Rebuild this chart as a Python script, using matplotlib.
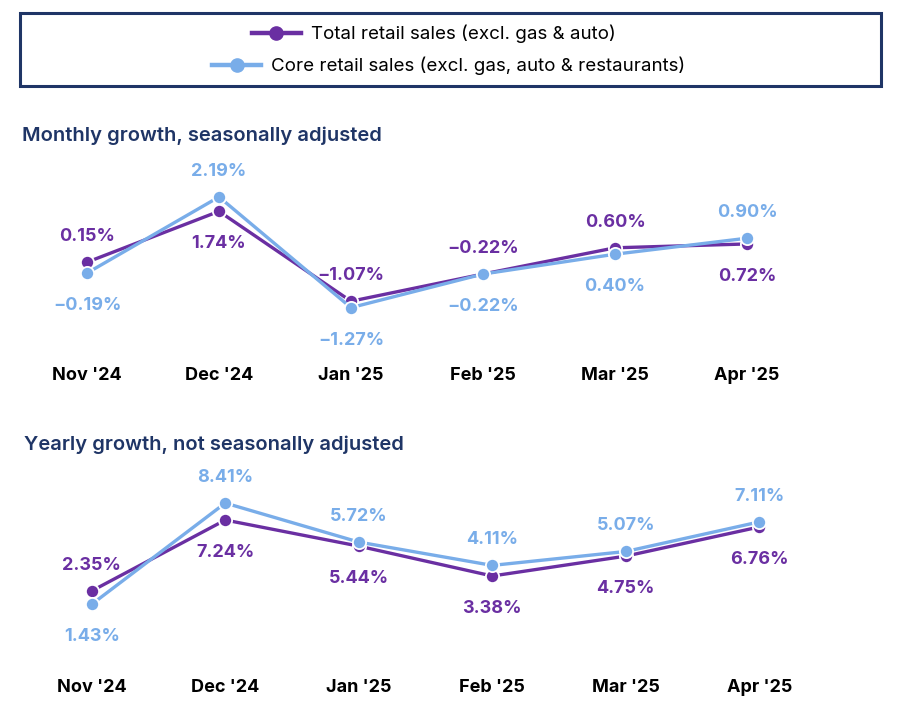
import matplotlib
matplotlib.use("Agg")
import matplotlib.pyplot as plt
from matplotlib.patches import Rectangle
from matplotlib.lines import Line2D

months = ["Nov '24", "Dec '24", "Jan '25", "Feb '25", "Mar '25", "Apr '25"]
total_monthly = [0.15, 1.74, -1.07, -0.22, 0.60, 0.72]
core_monthly = [-0.19, 2.19, -1.27, -0.22, 0.40, 0.90]
total_yearly = [2.35, 7.24, 5.44, 3.38, 4.75, 6.76]
core_yearly = [1.43, 8.41, 5.72, 4.11, 5.07, 7.11]

series_names = ["Total retail sales (excl. gas & auto)",
                "Core retail sales (excl. gas, auto & restaurants)"]
titles = ["Monthly growth, seasonally adjusted",
          "Yearly growth, not seasonally adjusted"]

PURPLE = "#6a2fa2"
BLUE = "#79ade9"
NAVY = "#1f3566"
FONT = "Inter"

plt.rcParams['font.family'] = [FONT, 'DejaVu Sans']

W, H = 901, 717
fig = plt.figure(figsize=(W / 100, H / 100), dpi=100)


def px_axes(left, top, width, height):
    return fig.add_axes([left / W, 1 - (top + height) / H, width / W, height / H])


def draw_panel(ax, total, core, ylim, title, title_xy):
    x = list(range(len(months)))
    ax.plot(x, total, color=PURPLE, lw=2.4, marker='o', ms=9.5,
            mfc=PURPLE, mec='white', mew=1.3, zorder=3, solid_capstyle='round')
    ax.plot(x, core, color=BLUE, lw=2.4, marker='o', ms=9.5,
            mfc=BLUE, mec='white', mew=1.3, zorder=4, solid_capstyle='round')
    up, down = 20, -22
    for i in x:
        t, c = total[i], core[i]
        t_up = t >= c
        ax.annotate(f"{t:.2f}%".replace('-', '\u2212'), (i, t), xytext=(0, up if t_up else down),
                    textcoords='offset points', ha='center', va='center_baseline',
                    color=PURPLE, fontsize=13, fontweight='bold')
        ax.annotate(f"{c:.2f}%".replace('-', '\u2212'), (i, c), xytext=(0, down if t_up else up),
                    textcoords='offset points', ha='center', va='center_baseline',
                    color=BLUE, fontsize=13, fontweight='bold')
    ax.set_xlim(-0.5, len(months) - 0.5)
    ax.set_ylim(*ylim)
    ax.set_xticks(x)
    ax.set_xticklabels(months, fontsize=13, fontweight='bold', color='black')
    ax.tick_params(axis='x', length=0, pad=12)
    ax.set_yticks([])
    for s in ax.spines.values():
        s.set_visible(False)
    fig.text(title_xy[0] / W, 1 - title_xy[1] / H, title, fontsize=14.5,
             fontweight='semibold', color=NAVY, ha='left', va='center_baseline')


# Top panel: y=0 at 267px, 32 px/unit, axes 150..350
ax1 = px_axes(21, 150, 792, 200)
draw_panel(ax1, total_monthly, core_monthly,
           (-(350 - 267) / 32, (267 - 150) / 32), titles[0], (22, 134))

# Bottom panel: y=0 at 625px, 14.5 px/unit, axes 470..662
ax2 = px_axes(25, 470, 801, 192)
draw_panel(ax2, total_yearly, core_yearly,
           (-(662 - 625) / 14.5, (625 - 470) / 14.5), titles[1], (24, 443))

# Legend box
fig.patches.append(Rectangle((20 / W, 1 - 86 / H), 861 / W, 73 / H,
                             transform=fig.transFigure, fill=False,
                             edgecolor=NAVY, lw=2.2))
for name, col, xc, yc in [(series_names[0], PURPLE, 434, 34),
                          (series_names[1], BLUE, 449, 66)]:
    h = Line2D([], [], color=col, lw=3.2, marker='o', ms=9.5, mfc=col, mec=col)
    fig.legend([h], [name], loc='center', bbox_to_anchor=(xc / W, 1 - yc / H),
               frameon=False, fontsize=13.5, handlelength=2.6, handletextpad=0.55,
               borderpad=0, borderaxespad=0)

fig.savefig("out.png", dpi=100)
